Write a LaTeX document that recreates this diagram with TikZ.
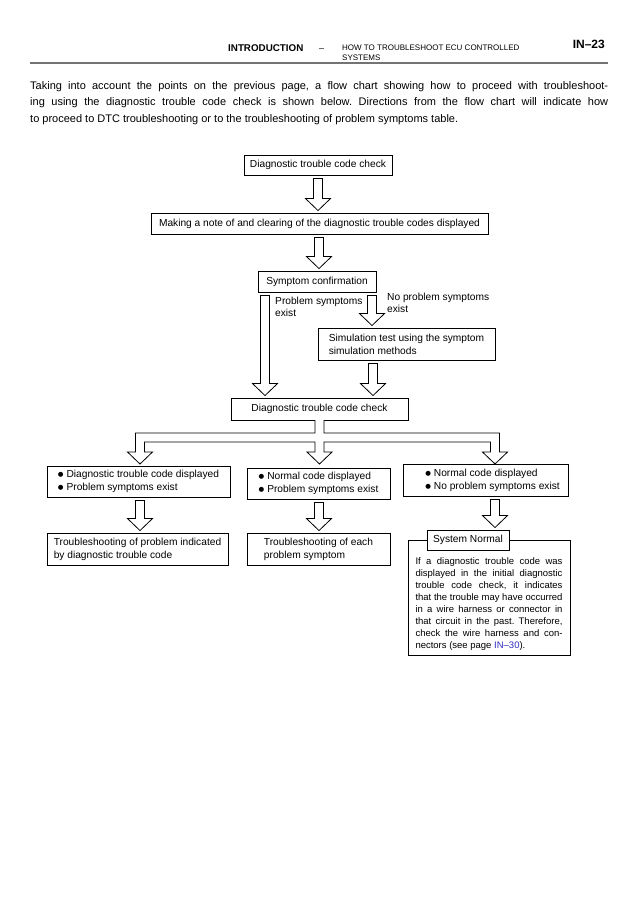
\documentclass[tikz,border=0pt]{standalone}
\usepackage{fontspec}
\setmainfont{Liberation Sans}
\newfontfamily\symbolfont{DejaVu Sans}
\usepackage{tikz}
\usetikzlibrary{calc}
\definecolor{linkblue}{RGB}{45,45,190}
\definecolor{rulegray}{RGB}{115,115,115}
\frenchspacing

% bullet of the case boxes
\newcommand{\casebullet}{\raisebox{1pt}{\symbolfont\fontsize{6.5}{6.5}\selectfont ●}\hspace{3pt}}

% hollow block arrow at x (px) from one node down to the next
\newcommand{\blockarrow}[3]{%
  \draw[hollowarrow] let \p1=(#2.south), \p2=(#3.north) in
    (#1pt-4.5pt,\y1-3pt) -- (#1pt-4.5pt,\y2+14pt) -- (#1pt-12.5pt,\y2+14pt)
    -- (#1pt,\y2+2pt) -- (#1pt+12.5pt,\y2+14pt) -- (#1pt+4.5pt,\y2+14pt)
    -- (#1pt+4.5pt,\y1-3pt) -- cycle;}

\begin{document}
\begin{tikzpicture}[x=1pt,y=-1pt,
	flowbox/.style={rectangle, draw=black, line width=0.9pt, fill=white, inner sep=0pt, align=left, font=\fontsize{10.2}{13}\selectfont},
	hollowarrow/.style={draw=black, line width=0.8pt, fill=white, line join=miter},
	branchnote/.style={anchor=north west, inner sep=0pt, align=left, font=\fontsize{10.2}{12}\selectfont},
	]
	\useasboundingbox (0,0) rectangle (638,903);

	%Header
	\node[anchor=base west, inner sep=0pt, font=\fontsize{9.8}{9.8}\selectfont\bfseries] (chapter) at (228,51) {INTRODUCTION};
	\node[anchor=base west, inner sep=0pt, font=\fontsize{9}{9}\selectfont] (dash) at (319,51) {–};
	\node[anchor=north west, inner sep=0pt, align=left, font=\fontsize{8}{9.5}\selectfont] (section) at (342,45) {HOW TO TROUBLESHOOT ECU CONTROLLED\\SYSTEMS};
	\node[anchor=base east, inner sep=0pt, font=\fontsize{12}{12}\selectfont\bfseries] (page) at (605,48) {IN–23};
	\draw[rulegray, line width=2.5pt] (30,63) -- (608,63);

	%Intro text
	\node[anchor=north west, inner sep=0pt, text width=578pt, align=justify, font=\fontsize{11}{16.5}\selectfont] (intro) at (30,81)
	{Taking into account the points on the previous page, a flow chart showing how to proceed with troubleshoot-\linebreak ing using the diagnostic trouble code check is shown below. Directions from the flow chart will indicate how\linebreak to proceed to DTC troubleshooting or to the troubleshooting of problem symptoms table.};

	%Nodes
	\node[flowbox, minimum width=148pt, minimum height=20pt] (dtcfirst) at (318,165) {Diagnostic trouble code check};
	\node[flowbox, minimum width=337pt, minimum height=21pt] (clearcodes) at (319.5,223.5) {Making a note of and clearing of the diagnostic trouble codes displayed};
	\node[flowbox, minimum width=118pt, minimum height=21pt] (confirm) at (317,281.5) {Symptom confirmation};
	\node[flowbox, minimum width=177pt, minimum height=32pt] (simtest) at (406.5,344) {Simulation test using the symptom\\simulation methods};
	\node[flowbox, minimum width=177pt, minimum height=22pt] (dtcsecond) at (319.5,409) {Diagnostic trouble code check};
	\node[flowbox, minimum width=183pt, minimum height=31pt] (casedtc) at (138.5,481.5) {\casebullet Diagnostic trouble code displayed\\\casebullet Problem symptoms exist};
	\node[flowbox, minimum width=143pt, minimum height=31pt] (casesym) at (318.5,483.5) {\casebullet Normal code displayed\\\casebullet Problem symptoms exist};
	\node[flowbox, minimum width=165pt, minimum height=32pt] (casenormal) at (485.5,480) {\hspace*{14pt}\casebullet Normal code displayed\\\hspace*{14pt}\casebullet No problem symptoms exist};
	\node[flowbox, minimum width=181pt, minimum height=32pt] (trbdtc) at (137.5,549) {Troubleshooting of problem indicated\\by diagnostic trouble code};
	\node[flowbox, minimum width=143pt, minimum height=32pt] (trbsym) at (318.5,549) {Troubleshooting of each\\problem symptom};
	\node[flowbox, anchor=north, minimum width=162pt, minimum height=115pt, text width=147pt, align=justify, font=\fontsize{9.5}{11.9}\selectfont] (normalnote) at (489,540)
	{\rule{0pt}{18.8pt}If a diagnostic trouble code was\linebreak displayed in the initial diagnostic\linebreak trouble code check, it indicates\linebreak that the trouble may have occurred\linebreak in a wire harness or connector in\linebreak that circuit in the past. Therefore,\linebreak check the wire harness and con-\linebreak nectors (see page \textcolor{linkblue}{IN–30}).};
	\node[flowbox, minimum width=82pt, minimum height=20pt, align=center] (sysnormal) at (468,540) {System Normal};

	%Arrows
	\blockarrow{318}{dtcfirst}{clearcodes}
	\blockarrow{319}{clearcodes}{confirm}
	\blockarrow{265}{confirm}{dtcsecond}
	\blockarrow{372}{confirm}{simtest}
	\blockarrow{373}{simtest}{dtcsecond}
	\draw[hollowarrow] (315,420) -- (315,433) -- (135.5,433) -- (135.5,452) -- (127.5,452) -- (140,464) -- (152.5,452) -- (144.5,452)
		-- (144.5,442) -- (315,442) -- (315,452) -- (307,452) -- (319.5,464) -- (332,452) -- (324,452)
		-- (324,442) -- (490.5,442) -- (490.5,452) -- (482.5,452) -- (495,464) -- (507.5,452) -- (499.5,452)
		-- (499.5,433) -- (324,433) -- (324,420);
	\blockarrow{140}{casedtc}{trbdtc}
	\blockarrow{319}{casesym}{trbsym}
	\blockarrow{495}{casenormal}{sysnormal}

	%Branch labels
	\node[branchnote] (yesnote) at (275,297) {Problem symptoms\\exist};
	\node[branchnote] (nonote) at (387,293) {No problem symptoms\\exist};

\end{tikzpicture}
\end{document}
